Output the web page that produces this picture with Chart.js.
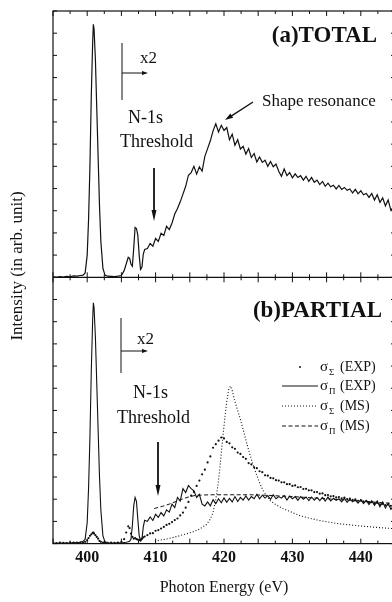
<!DOCTYPE html>
<html>
<head>
<meta charset="utf-8">
<script src="https://cdn.jsdelivr.net/npm/chart.js@4.4.1/dist/chart.umd.min.js"></script>
<style>
  html, body { margin: 0; padding: 0; background: #fff; overflow: hidden; }
  #wrap { width: 392px; height: 602px; overflow: hidden; }
  canvas { display: block; }
</style>
</head>
<body>
<div id="wrap"><canvas id="c" width="400" height="602"></canvas></div>
<script>
// photon energies of the measured spectra (eV)
const expE = [
  395.0, 395.5, 396.0, 396.5, 397.0, 397.5, 398.0, 398.5, 399.0, 399.4,
  399.7, 400.0, 400.2, 400.4, 400.6, 400.8, 400.9, 401.0, 401.2, 401.4,
  401.6, 401.8, 402.0, 402.3, 402.6, 403.0, 403.5, 404.0, 404.5, 405.0,
  405.4, 405.7, 406.0, 406.2, 406.4, 406.6, 406.8, 407.0, 407.2, 407.4,
  407.6, 407.8, 408.0, 408.2, 408.4,
  408.8, 409.2, 409.6, 410.0, 410.4, 410.8, 411.2, 411.6, 412.0, 412.4,
  412.8, 413.2, 413.6, 414.0, 414.4, 414.8, 415.2, 415.6, 416.0, 416.4,
  416.8, 417.2, 417.6, 418.0, 418.4, 418.8, 419.2, 419.6, 420.0, 420.4,
  420.8, 421.2, 421.6, 422.0, 422.4, 422.8, 423.2, 423.6, 424.0, 424.4,
  424.8, 425.2, 425.6, 426.0, 426.4, 426.8, 427.2, 427.6, 428.0, 428.4,
  428.8, 429.2, 429.6, 430.0, 430.4, 430.8, 431.2, 431.6, 432.0, 432.4,
  432.8, 433.2, 433.6, 434.0, 434.4, 434.8, 435.2, 435.6, 436.0, 436.4,
  436.8, 437.2, 437.6, 438.0, 438.4, 438.8, 439.2, 439.6, 440.0, 440.4,
  440.8, 441.2, 441.6, 442.0, 442.4, 442.8, 443.2, 443.6, 444.0, 444.4, 444.8
];

// (a) total yield
const totalI = [
  0.02, 0.00, 0.03, 0.01, 0.04, 0.02, 0.06, 0.05, 0.08, 0.10,
  0.20, 1.00, 2.60, 5.00, 8.20, 10.6, 11.4, 11.2, 9.80, 7.60,
  5.40, 3.20, 1.60, 0.40, 0.10, 0.05, 0.04, 0.03, 0.05, 0.08,
  0.30, 0.60, 0.90, 0.85, 0.60, 0.50, 1.30, 2.25, 2.20, 1.90,
  1.00, 0.35, 0.45, 1.05, 1.25,
  1.30, 1.52, 1.40, 1.75, 1.62, 1.98, 1.88, 2.30, 2.15, 2.45,
  2.85, 3.10, 3.40, 3.75, 4.10, 4.60, 4.72, 5.00, 4.65, 4.98,
  4.78, 5.45, 5.80, 6.15, 6.60, 6.92, 6.55, 6.85, 6.62, 6.75,
  6.20, 6.45, 5.95, 6.20, 5.78, 5.90, 5.55, 5.80, 5.40, 5.58,
  5.20, 5.42, 5.18, 5.28, 5.00, 5.22, 4.98, 5.10, 4.78, 4.55,
  4.88, 4.58, 4.72, 4.48, 4.66, 4.50, 4.58, 4.38, 4.55, 4.32,
  4.50, 4.28, 4.38, 4.18, 4.32, 4.10, 4.24, 4.08, 4.15, 3.98,
  4.14, 3.96, 4.05, 3.92, 3.98, 3.80, 3.96, 3.76, 3.90, 3.72,
  3.78, 3.60, 3.78, 3.48, 3.72, 3.38, 3.58, 3.22, 3.48, 3.02, 3.18
];

// (b) sigma_Pi (EXP)
const piExp = [
  0.02, 0.01, 0.03, 0.02, 0.03, 0.02, 0.05, 0.04, 0.06, 0.10,
  0.20, 0.95, 2.50, 4.80, 7.80, 10.1, 10.85, 10.65, 9.30, 7.20,
  5.10, 3.00, 1.50, 0.35, 0.08, 0.04, 0.03, 0.02, 0.04, 0.03,
  0.05, 0.06, 0.08, 0.10, 0.20, 0.80, 1.70, 2.08, 1.90, 1.10,
  0.35, 0.12, 0.20, 0.75, 1.05,
  1.00, 1.20, 1.04, 1.32, 1.18, 1.40, 1.25, 1.52, 1.42, 1.78,
  1.62, 2.08, 1.92, 2.48, 2.30, 2.62, 2.48, 2.38, 2.08, 2.22,
  1.78, 1.70, 1.88, 1.70, 1.98, 1.80, 2.02, 1.84, 2.06, 1.86,
  2.04, 1.88, 2.12, 1.90, 2.08, 1.96, 2.15, 1.96, 2.12, 2.02,
  2.22, 2.02, 2.18, 2.05, 2.16, 2.00, 2.20, 2.02, 2.12, 2.05,
  2.16, 1.96, 2.14, 2.02, 2.12, 1.95, 2.12, 2.00, 2.10, 1.94,
  2.10, 1.96, 2.08, 1.94, 2.08, 1.92, 2.10, 1.92, 2.04, 1.95,
  2.02, 1.88, 2.05, 1.86, 2.00, 1.88, 1.96, 1.82, 1.98, 1.80,
  1.95, 1.76, 1.93, 1.72, 1.92, 1.66, 1.88, 1.60, 1.82, 1.54, 1.72
];

// (b) sigma_Sigma (EXP)
const sigmaExp = [
  0.03, 0.02, 0.04, 0.03, 0.02, 0.04, 0.05, 0.04, 0.06, 0.05,
  0.08, 0.15, 0.25, 0.35, 0.42, 0.48, 0.50, 0.45, 0.38, 0.30,
  0.22, 0.12, 0.08, 0.05, 0.04, 0.03, 0.04, 0.03, 0.05, 0.08,
  0.20, 0.50, 0.78, 0.70, 0.45, 0.30, 0.22, 0.25, 0.20, 0.18,
  0.15, 0.18, 0.22, 0.28, 0.32,
  0.38, 0.46, 0.47, 0.58, 0.61, 0.68, 0.75, 0.84, 0.89, 0.97,
  1.06, 1.13, 1.27, 1.40, 1.62, 1.88, 2.16, 2.33, 2.60, 2.84,
  3.12, 3.33, 3.66, 3.93, 4.32, 4.48, 4.64, 4.78, 4.74, 4.58,
  4.52, 4.34, 4.27, 4.10, 4.04, 3.90, 3.82, 3.63, 3.57, 3.44,
  3.40, 3.26, 3.22, 3.08, 3.06, 2.96, 2.94, 2.86, 2.84, 2.76,
  2.76, 2.68, 2.68, 2.60, 2.62, 2.54, 2.55, 2.46, 2.47, 2.40,
  2.40, 2.32, 2.32, 2.25, 2.26, 2.18, 2.19, 2.13, 2.14, 2.08,
  2.10, 2.04, 2.07, 2.01, 2.03, 1.97, 1.99, 1.93, 1.95, 1.89,
  1.91, 1.85, 1.87, 1.81, 1.83, 1.77, 1.79, 1.74, 1.76, 1.70, 1.72
];

// (b) multiple scattering calculations
const sigmaMsE = [
  409.9, 410.5, 411.5, 412.5, 413.5, 414.5, 415.4, 416.4, 417.4, 418.0,
  418.4, 418.8, 419.1, 419.4, 419.6, 419.9, 420.1, 420.4, 420.7, 420.95,
  421.2, 421.6, 422.0, 422.4, 423.0, 423.7, 424.2, 424.7, 425.2, 425.7,
  426.7, 427.6, 428.6, 430.0, 431.1, 433.5, 436.4, 439.4, 442.3, 445.0
];
const sigmaMs = [
  0.10, 0.15, 0.20, 0.27, 0.35, 0.44, 0.52, 0.65, 0.85, 1.10,
  1.40, 2.00, 2.60, 3.40, 4.10, 5.00, 5.60, 6.40, 6.95, 7.10,
  6.90, 6.40, 6.00, 5.60, 4.90, 4.10, 3.60, 3.15, 2.75, 2.40,
  1.95, 1.75, 1.58, 1.40, 1.26, 1.07, 0.91, 0.81, 0.73, 0.67
];
const piMsE = [
  409.8, 411.0, 412.0, 413.0, 414.0, 415.0, 416.0, 418.0, 420.0, 422.0,
  424.0, 426.0, 428.0, 430.0, 432.0, 434.0, 436.0, 438.0, 440.0, 442.0, 445.0
];
const piMs = [
  1.58, 1.68, 1.78, 1.90, 2.02, 2.12, 2.18, 2.20, 2.20, 2.20,
  2.20, 2.18, 2.15, 2.12, 2.08, 2.04, 2.00, 1.96, 1.92, 1.87, 1.80
];

const xLabels = [400, 410, 420, 430, 440];

const pts = (xs, ys) => xs.map((e, i) => ({ x: e, y: ys[i] }));
const serif = '"Liberation Serif", "Times New Roman", serif';
const ink = '#111';

// frame, panel divider and inward ticks
const frame = {
  id: 'frame',
  afterDatasetsDraw(chart) {
    const { ctx, chartArea: a, scales: { x, yA, yB } } = chart;
    const mid = yA.getPixelForValue(0);
    ctx.save();
    ctx.strokeStyle = ink;
    ctx.lineWidth = 1.2;
    ctx.strokeRect(a.left, a.top, a.right - a.left, a.bottom - a.top);
    ctx.beginPath();
    ctx.moveTo(a.left, mid);
    ctx.lineTo(a.right, mid);
    ctx.stroke();
    ctx.lineWidth = 1;
    ctx.beginPath();
    x.ticks.forEach(t => {
      const px = x.getPixelForValue(t.value);
      const len = t.value % 5 === 0 ? 5 : 3;
      ctx.moveTo(px, a.bottom); ctx.lineTo(px, a.bottom - len);
      ctx.moveTo(px, mid - len); ctx.lineTo(px, mid + len);
      ctx.moveTo(px, a.top); ctx.lineTo(px, a.top + len);
    });
    yB.ticks.forEach(t => {
      const py = yB.getPixelForValue(t.value);
      ctx.moveTo(a.left, py); ctx.lineTo(a.left + 4, py);
      ctx.moveTo(a.right, py); ctx.lineTo(a.right - 4, py);
    });
    ctx.stroke();
    ctx.restore();
  }
};

function arrow(ctx, x1, y1, x2, y2, head, half, width) {
  const ang = Math.atan2(y2 - y1, x2 - x1);
  ctx.lineWidth = width;
  ctx.beginPath();
  ctx.moveTo(x1, y1);
  ctx.lineTo(x2 - Math.cos(ang) * head * 0.8, y2 - Math.sin(ang) * head * 0.8);
  ctx.stroke();
  ctx.beginPath();
  ctx.moveTo(x2, y2);
  ctx.lineTo(x2 - Math.cos(ang) * head - Math.sin(ang) * half, y2 - Math.sin(ang) * head + Math.cos(ang) * half);
  ctx.lineTo(x2 - Math.cos(ang) * head + Math.sin(ang) * half, y2 - Math.sin(ang) * head - Math.cos(ang) * half);
  ctx.closePath();
  ctx.fill();
}

function sigmaLabel(ctx, x, y, sub, tag) {
  ctx.font = '15px ' + serif;
  ctx.fillText('\u03c3', x, y);
  ctx.font = '9px ' + serif;
  ctx.fillText(sub, x + 9, y + 4);
  ctx.font = '14px ' + serif;
  ctx.fillText(tag, x + 20, y);
}

// labels, arrows and legend
const notes = {
  id: 'notes',
  afterDraw(chart) {
    const ctx = chart.ctx;
    ctx.save();
    ctx.fillStyle = ink;
    ctx.strokeStyle = ink;
    ctx.textBaseline = 'alphabetic';
    ctx.textAlign = 'left';

    // y axis title
    ctx.save();
    ctx.translate(18, 266);
    ctx.rotate(-Math.PI / 2);
    ctx.textAlign = 'center';
    ctx.textBaseline = 'middle';
    ctx.font = '17px ' + serif;
    ctx.fillText('Intensity (in arb. unit)', 0, 0);
    ctx.restore();

    // panel titles
    ctx.font = 'bold 23px ' + serif;
    ctx.textAlign = 'right';
    ctx.fillText('(a)TOTAL', 377, 42);
    ctx.fillText('(b)PARTIAL', 382, 317);
    ctx.textAlign = 'left';

    // x2 markers
    ctx.lineWidth = 1;
    ctx.beginPath();
    ctx.moveTo(122, 43); ctx.lineTo(122, 100);
    ctx.moveTo(121, 318); ctx.lineTo(121, 373);
    ctx.stroke();
    arrow(ctx, 122, 73, 148, 73, 6, 2, 1);
    arrow(ctx, 121, 351, 148, 351, 6, 2, 1);
    ctx.font = '17px ' + serif;
    ctx.fillText('x2', 140, 63);
    ctx.fillText('x2', 137, 344);

    // threshold
    ctx.font = '18px ' + serif;
    ctx.fillText('N-1s', 128, 123);
    ctx.fillText('Threshold', 120, 147);
    ctx.fillText('N-1s', 133, 398);
    ctx.fillText('Threshold', 117, 423);
    arrow(ctx, 154, 168, 154, 221, 11, 2.5, 1.8);
    arrow(ctx, 158, 442, 158, 496, 11, 2.5, 1.8);

    // shape resonance
    ctx.font = '17px ' + serif;
    ctx.fillText('Shape resonance', 262, 106);
    arrow(ctx, 253, 102, 225, 120, 8, 2.5, 1.4);

    // legend
    const rows = [367, 386, 406, 426];
    ctx.beginPath();
    ctx.arc(300, rows[0], 1, 0, Math.PI * 2);
    ctx.fill();
    ctx.lineWidth = 1;
    ctx.beginPath(); ctx.moveTo(282, rows[1]); ctx.lineTo(318, rows[1]); ctx.stroke();
    ctx.setLineDash([1, 2]);
    ctx.beginPath(); ctx.moveTo(282, rows[2]); ctx.lineTo(318, rows[2]); ctx.stroke();
    ctx.setLineDash([4, 2.5]);
    ctx.beginPath(); ctx.moveTo(282, rows[3]); ctx.lineTo(318, rows[3]); ctx.stroke();
    ctx.setLineDash([]);
    sigmaLabel(ctx, 320, rows[0] + 4, '\u03a3', '(EXP)');
    sigmaLabel(ctx, 320, rows[1] + 4, '\u03a0', '(EXP)');
    sigmaLabel(ctx, 320, rows[2] + 4, '\u03a3', '(MS)');
    sigmaLabel(ctx, 320, rows[3] + 4, '\u03a0', '(MS)');

    ctx.restore();
  }
};

new Chart(document.getElementById('c'), {
  type: 'line',
  data: {
    datasets: [
      { label: 'TOTAL', data: pts(expE, totalI), yAxisID: 'yA',
        borderColor: ink, borderWidth: 1.2, pointRadius: 0 },
      { label: 'sigma Pi (EXP)', data: pts(expE, piExp), yAxisID: 'yB',
        borderColor: ink, borderWidth: 1.1, pointRadius: 0 },
      { label: 'sigma Sigma (EXP)', data: pts(expE, sigmaExp), yAxisID: 'yB',
        showLine: false, pointRadius: 1.1, pointBorderWidth: 0, pointBackgroundColor: ink },
      { label: 'sigma Sigma (MS)', data: pts(sigmaMsE, sigmaMs), yAxisID: 'yB',
        borderColor: ink, borderWidth: 1.1, borderDash: [1, 2], pointRadius: 0 },
      { label: 'sigma Pi (MS)', data: pts(piMsE, piMs), yAxisID: 'yB',
        borderColor: ink, borderWidth: 1, borderDash: [4, 2.5], pointRadius: 0 }
    ]
  },
  options: {
    responsive: false,
    animation: false,
    devicePixelRatio: 1,
    layout: { padding: { left: 53, right: 5, top: 11, bottom: 5 } },
    plugins: { legend: { display: false }, tooltip: { enabled: false } },
    scales: {
      x: {
        type: 'linear', min: 395, max: 445,
        grid: { display: false, drawTicks: false },
        border: { display: false },
        ticks: {
          stepSize: 2.5, padding: 5, autoSkip: false, maxRotation: 0, color: ink,
          font: { family: serif, size: 16, weight: 'bold' },
          callback: v => xLabels.includes(v) ? String(v) : ''
        },
        title: {
          display: true, text: 'Photon Energy (eV)', color: ink,
          font: { family: serif, size: 16 }, padding: { top: 5, bottom: 0 }
        }
      },
      yA: { type: 'linear', min: -12, max: 12, display: false },
      yB: { type: 'linear', min: 0, max: 24, display: false, ticks: { stepSize: 1 } }
    }
  },
  plugins: [frame, notes]
});
</script>
</body>
</html>
